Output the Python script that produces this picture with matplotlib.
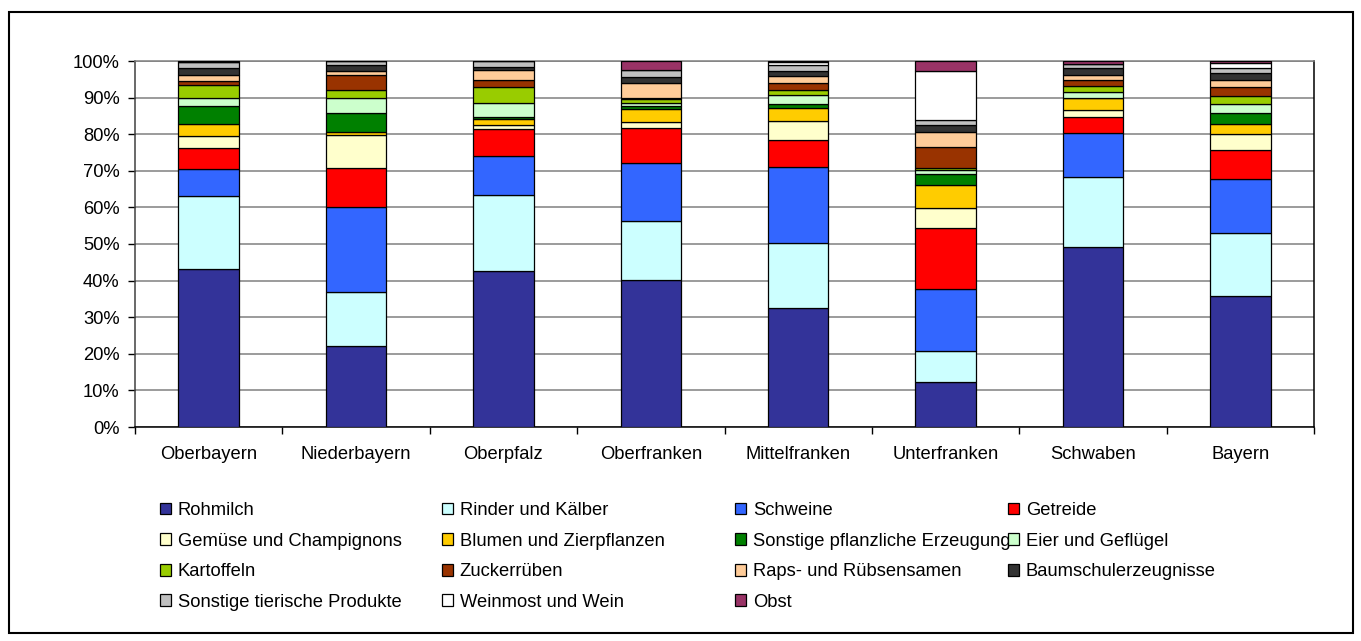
import numpy as np
import matplotlib
matplotlib.use("Agg")
import matplotlib.pyplot as plt
from matplotlib.patches import Rectangle
from matplotlib.ticker import PercentFormatter

plt.rcParams["font.family"] = ["Liberation Sans", "DejaVu Sans"]

regionen = ["Oberbayern", "Niederbayern", "Oberpfalz", "Oberfranken",
            "Mittelfranken", "Unterfranken", "Schwaben", "Bayern"]

# Anteile in % (von unten nach oben gestapelt)
rohmilch      = [43.3, 22.0, 42.5, 40.3, 32.6, 12.3, 49.3, 35.9]
rinder        = [19.7, 14.8, 20.8, 15.9, 17.8,  8.5, 18.9, 17.0]
schweine      = [ 7.4, 23.4, 10.7, 15.8, 20.6, 17.0, 12.1, 14.8]
getreide      = [ 5.7, 10.7,  7.4,  9.8,  7.4, 16.6,  4.5,  8.0]
gemuese       = [ 3.3,  8.8,  1.2,  1.4,  5.1,  5.3,  1.9,  4.3]
blumen        = [ 3.3,  0.9,  1.5,  3.6,  3.6,  6.4,  3.1,  2.9]
sonst_pflanz  = [ 4.9,  5.1,  0.5,  0.8,  1.1,  3.1,  0.2,  2.8]
eier          = [ 2.2,  4.3,  3.9,  0.8,  2.6,  0.9,  1.6,  2.5]
kartoffeln    = [ 3.6,  2.2,  4.3,  1.1,  1.3,  0.6,  1.6,  2.3]
zuckerrueben  = [ 1.2,  4.0,  2.0,  0.5,  1.8,  5.8,  1.7,  2.5]
raps          = [ 1.6,  1.1,  2.8,  3.9,  2.1,  4.2,  1.3,  1.8]
baumschule    = [ 1.8,  1.6,  0.8,  1.6,  1.2,  1.8,  1.8,  1.8]
sonst_tier    = [ 1.6,  1.1,  1.6,  2.0,  1.7,  1.5,  1.2,  1.4]
wein          = [ 0.0,  0.0,  0.0,  0.0,  0.7, 13.2,  0.0,  1.4]
obst          = [ 0.4,  0.0,  0.0,  2.5,  0.4,  2.8,  0.8,  0.6]

serien = [
    ("Rohmilch", rohmilch, "#333399"),
    ("Rinder und Kälber", rinder, "#CCFFFF"),
    ("Schweine", schweine, "#3366FF"),
    ("Getreide", getreide, "#FF0000"),
    ("Gemüse und Champignons", gemuese, "#FFFFCC"),
    ("Blumen und Zierpflanzen", blumen, "#FFCC00"),
    ("Sonstige pflanzliche Erzeugung", sonst_pflanz, "#008000"),
    ("Eier und Geflügel", eier, "#CCFFCC"),
    ("Kartoffeln", kartoffeln, "#99CC00"),
    ("Zuckerrüben", zuckerrueben, "#993300"),
    ("Raps- und Rübsensamen", raps, "#FFCC99"),
    ("Baumschulerzeugnisse", baumschule, "#333333"),
    ("Sonstige tierische Produkte", sonst_tier, "#C0C0C0"),
    ("Weinmost und Wein", wein, "#FFFFFF"),
    ("Obst", obst, "#993366"),
]

W, H = 1361, 641
fig = plt.figure(figsize=(W / 100, H / 100), dpi=100)
ax = fig.add_axes([135 / W, 1 - 427 / H, (1314 - 135) / W, (427 - 61) / H])

x = np.arange(len(regionen))
unten = np.zeros(len(regionen))
handles = []
for name, werte, farbe in serien:
    w = np.array(werte) / 100
    b = ax.bar(x, w, bottom=unten, width=0.41, color=farbe,
               edgecolor="black", linewidth=0.9, label=name, zorder=3)
    handles.append(b)
    unten += w

ax.set_xlim(-0.5, len(regionen) - 0.5)
ax.set_ylim(0, 1)
ax.set_yticks(np.arange(0, 1.01, 0.1))
ax.yaxis.set_major_formatter(PercentFormatter(1.0, decimals=0))
ax.yaxis.grid(True, color="#808080", linewidth=1.1, zorder=0)
ax.set_xticks(x)
ax.set_xticklabels(regionen)
ax.set_xticks(np.arange(-0.5, len(regionen)), minor=True)
ax.tick_params(axis="x", which="major", length=0, pad=14, labelsize=13.2)
ax.tick_params(axis="x", which="minor", length=5, width=1)
ax.tick_params(axis="y", length=5, width=1, pad=6, labelsize=13.2)
ax.spines["top"].set_color("#808080")
ax.spines["left"].set_color("#404040")
for s in ax.spines.values():
    s.set_linewidth(1.1)

# Legende: vier Spalten, zeilenweise gefüllt wie in Excel
spalten_x = [160, 442, 735, 1008]
for j, sx in enumerate(spalten_x):
    hs = handles[j::4]
    fig.legend(hs, [h.get_label() for h in hs], loc="upper left",
               bbox_to_anchor=(sx / W, 1 - 502 / H), frameon=False,
               fontsize=13.2, borderpad=0, borderaxespad=0,
               handlelength=0.62, handleheight=0.62, handletextpad=0.35,
               labelspacing=0.74)

# Rahmen um das ganze Diagramm
fig.add_artist(Rectangle((9 / W, 1 - 633 / H), (1353 - 9) / W, (633 - 12) / H,
                         transform=fig.transFigure, fill=False,
                         edgecolor="black", linewidth=1.5))

fig.savefig("out.png", dpi=100)
